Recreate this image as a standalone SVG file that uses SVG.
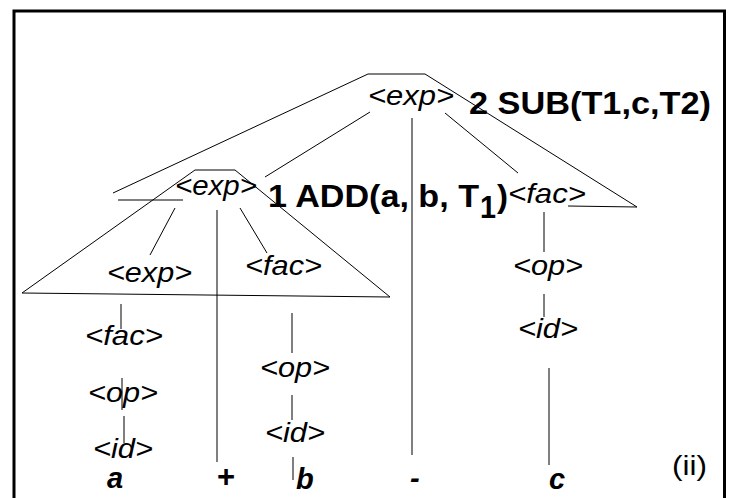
<svg xmlns="http://www.w3.org/2000/svg" width="734" height="498" viewBox="0 0 734 498">
<style>
.lbl{font-family:"Liberation Sans",Arial,sans-serif;font-size:28px;font-style:italic;fill:#000}
.bold{font-family:"Liberation Sans",Arial,sans-serif;font-size:31px;font-weight:bold;fill:#000}
.term{font-family:"Liberation Sans",Arial,sans-serif;font-size:29px;font-weight:bold;font-style:italic;fill:#000}
.reg{font-family:"Liberation Sans",Arial,sans-serif;font-size:28px;fill:#000}
.ln{stroke:#000;stroke-width:1;fill:none}
</style>
<rect x="0" y="0" width="734" height="498" fill="#fff"/>
<rect x="14" y="11" width="710.5" height="500" fill="none" stroke="#000" stroke-width="3"/>
<g id="connectors">
<polyline class="ln" points="113,193 368,74 425,74 637,207"/>
<line class="ln" x1="118" y1="200" x2="183" y2="200"/>
<line class="ln" x1="568" y1="206" x2="637" y2="207"/>
<polyline class="ln" points="22,293 195,170 235,170 390,297"/>
<line class="ln" x1="22" y1="293" x2="390" y2="297"/>
<line class="ln" x1="370" y1="112" x2="265" y2="177"/>
<line class="ln" x1="412" y1="118" x2="412" y2="455"/>
<line class="ln" x1="445" y1="113" x2="518" y2="173"/>
<line class="ln" x1="175" y1="208" x2="150" y2="255"/>
<line class="ln" x1="217" y1="210" x2="217" y2="462"/>
<line class="ln" x1="240" y1="208" x2="267" y2="253"/>
<line class="ln" x1="121" y1="304" x2="121" y2="329"/>
<line class="ln" x1="122" y1="378" x2="122" y2="410"/>
<line class="ln" x1="124" y1="416" x2="124" y2="443"/>
<line class="ln" x1="292" y1="313" x2="292" y2="353"/>
<line class="ln" x1="292" y1="395" x2="292" y2="420"/>
<line class="ln" x1="293" y1="457" x2="293" y2="480"/>
<line class="ln" x1="544" y1="212" x2="544" y2="252"/>
<line class="ln" x1="544" y1="294" x2="544" y2="317"/>
<line class="ln" x1="549" y1="368" x2="549" y2="465"/>
</g>
<g id="n-exp-top"><text class="lbl" x="368" y="105" textLength="86" lengthAdjust="spacingAndGlyphs">&lt;exp&gt;</text></g>
<g id="code-sub"><text class="bold" x="469" y="114" textLength="242" lengthAdjust="spacingAndGlyphs">2 SUB(T1,c,T2)</text></g>
<g id="n-exp-2"><text class="lbl" x="175" y="195" textLength="82" lengthAdjust="spacingAndGlyphs">&lt;exp&gt;</text></g>
<g id="code-add">
<text class="bold" x="268" y="207" textLength="211" lengthAdjust="spacingAndGlyphs">1 ADD(a, b, T</text>
<text class="bold" x="480" y="218" font-size="28" textLength="16" lengthAdjust="spacingAndGlyphs">1</text>
<text class="bold" x="497" y="207" textLength="11" lengthAdjust="spacingAndGlyphs">)</text>
</g>
<g id="n-fac-top"><text class="lbl" x="508" y="203" font-size="26" textLength="78" lengthAdjust="spacingAndGlyphs">&lt;fac&gt;</text></g>
<g id="n-exp-3"><text class="lbl" x="107" y="282" textLength="85" lengthAdjust="spacingAndGlyphs">&lt;exp&gt;</text></g>
<g id="n-fac-mid"><text class="lbl" x="245" y="275" textLength="77" lengthAdjust="spacingAndGlyphs">&lt;fac&gt;</text></g>
<g id="n-fac-left"><text class="lbl" x="85" y="345" textLength="78" lengthAdjust="spacingAndGlyphs">&lt;fac&gt;</text></g>
<g id="n-op-left"><text class="lbl" x="88" y="402" textLength="70" lengthAdjust="spacingAndGlyphs">&lt;op&gt;</text></g>
<g id="n-id-left"><text class="lbl" x="93" y="458" textLength="60" lengthAdjust="spacingAndGlyphs">&lt;id&gt;</text></g>
<g id="n-op-mid"><text class="lbl" x="260" y="377" textLength="70" lengthAdjust="spacingAndGlyphs">&lt;op&gt;</text></g>
<g id="n-id-mid"><text class="lbl" x="265" y="442" textLength="60" lengthAdjust="spacingAndGlyphs">&lt;id&gt;</text></g>
<g id="n-op-right"><text class="lbl" x="513" y="275" textLength="70" lengthAdjust="spacingAndGlyphs">&lt;op&gt;</text></g>
<g id="n-id-right"><text class="lbl" x="518" y="338" textLength="60" lengthAdjust="spacingAndGlyphs">&lt;id&gt;</text></g>
<g id="t-a"><text class="term" x="107" y="488">a</text></g>
<g id="t-plus"><text class="bold" x="217" y="487" font-size="28">+</text></g>
<g id="t-b"><text class="term" x="296" y="489">b</text></g>
<g id="t-minus"><text class="term" x="410" y="488">-</text></g>
<g id="t-c"><text class="term" x="549" y="489">c</text></g>
<g id="caption"><text class="reg" x="672" y="475" textLength="35" lengthAdjust="spacingAndGlyphs">(ii)</text></g>
</svg>
